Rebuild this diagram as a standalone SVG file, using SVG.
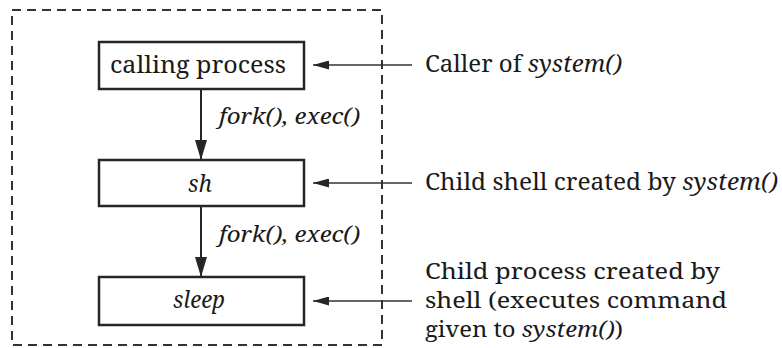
<svg xmlns="http://www.w3.org/2000/svg" width="782" height="348" viewBox="0 0 782 348">
  <style>
    text { font-family: "Noto Serif", "Liberation Serif", serif; fill: #1a1a1a; }
    .it { font-style: italic; }
    .box { fill: #ffffff; stroke: #262626; stroke-width: 2.5; }
    .frame { fill: none; stroke: #333333; stroke-width: 2; stroke-dasharray: 9 6; }
    .flow { stroke: #262626; stroke-width: 2; fill: none; }
    .note { stroke: #333333; stroke-width: 1.3; fill: none; }
  </style>
  <defs>
    <marker id="bigHead" markerUnits="userSpaceOnUse" markerWidth="20" markerHeight="12" refX="20" refY="6" orient="auto" viewBox="0 0 20 12">
      <path d="M0,0 L20,6 L0,12 Z" fill="#262626"/>
    </marker>
    <marker id="smallHead" markerUnits="userSpaceOnUse" markerWidth="16" markerHeight="9" refX="16" refY="4.5" orient="auto" viewBox="0 0 16 9">
      <path d="M0,0 L16,4.5 L0,9 Z" fill="#262626"/>
    </marker>
  </defs>

  <!-- dashed outline around the processes -->
  <rect class="frame" x="12" y="10" width="370" height="335"/>

  <g id="connectors">
    <line class="flow" x1="201" y1="89" x2="201" y2="160" marker-end="url(#bigHead)"/>
    <line class="flow" x1="201" y1="206" x2="201" y2="277" marker-end="url(#bigHead)"/>
    <line class="note" x1="412" y1="65" x2="313" y2="65" marker-end="url(#smallHead)"/>
    <line class="note" x1="412" y1="183" x2="313" y2="183" marker-end="url(#smallHead)"/>
    <line class="note" x1="412" y1="301" x2="313" y2="301" marker-end="url(#smallHead)"/>
    <text class="it" x="219" y="124" font-size="22" textLength="141" lengthAdjust="spacingAndGlyphs">fork(), exec()</text>
    <text class="it" x="219" y="242" font-size="22" textLength="141" lengthAdjust="spacingAndGlyphs">fork(), exec()</text>
  </g>

  <g id="calling-process">
    <rect class="box" x="99" y="42" width="205" height="47"/>
    <text x="110" y="73" font-size="24" textLength="176" lengthAdjust="spacingAndGlyphs">calling process</text>
  </g>

  <g id="sh">
    <rect class="box" x="99" y="160" width="205" height="46"/>
    <text class="it" x="188" y="192" font-size="24" textLength="24" lengthAdjust="spacingAndGlyphs">sh</text>
  </g>

  <g id="sleep">
    <rect class="box" x="99" y="277" width="205" height="48"/>
    <text class="it" x="173" y="308" font-size="24" textLength="52" lengthAdjust="spacingAndGlyphs">sleep</text>
  </g>

  <g id="label-caller">
    <text x="425" y="72" font-size="24" textLength="197" lengthAdjust="spacingAndGlyphs">Caller of <tspan class="it">system()</tspan></text>
  </g>

  <g id="label-child-shell">
    <text x="425" y="190" font-size="24" textLength="353" lengthAdjust="spacingAndGlyphs">Child shell created by <tspan class="it">system()</tspan></text>
  </g>

  <g id="label-child-process">
    <text x="425" y="279" font-size="21" textLength="295" lengthAdjust="spacingAndGlyphs">Child process created by</text>
    <text x="425" y="308" font-size="21" textLength="302" lengthAdjust="spacingAndGlyphs">shell (executes command</text>
    <text x="425" y="337" font-size="21" textLength="198" lengthAdjust="spacingAndGlyphs">given to <tspan class="it">system()</tspan>)</text>
  </g>
</svg>
